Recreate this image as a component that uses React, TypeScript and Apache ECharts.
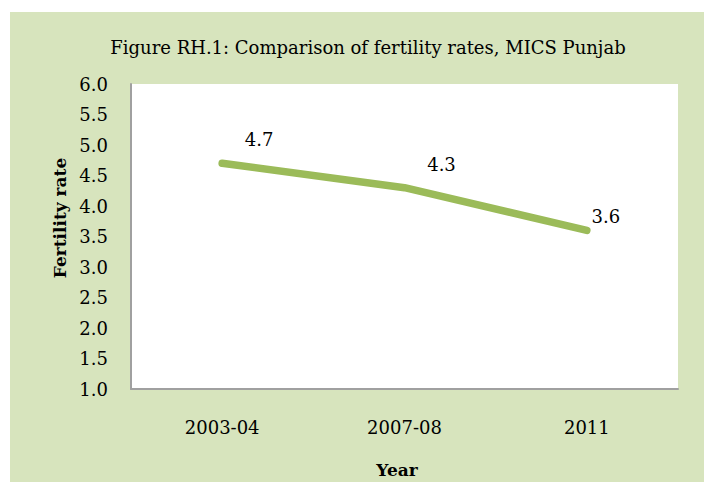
import React, { useEffect, useRef } from "react";
import * as echarts from "echarts";

const categories = ["2003-04", "2007-08", "2011"];
const fertility = [4.7, 4.3, 3.6];
const titleText = "Figure RH.1: Comparison of fertility rates, MICS Punjab";
const yName = "Fertility rate";
const xName = "Year";

const FONT = "DejaVu Serif";
const labelOffsets: [number, number][] = [
  [37, -9],
  [37, -9],
  [19, 1],
];

export default function App() {
  const ref = useRef<HTMLDivElement>(null);
  useEffect(() => {
    if (!ref.current) return;
    const chart = echarts.init(ref.current, null, { renderer: "svg" });
    chart.setOption({
      animation: false,
      backgroundColor: "#ffffff",
      graphic: [
        {
          type: "rect",
          z: -10,
          silent: true,
          shape: { x: 10, y: 12, width: 702, height: 478 },
          style: { fill: "#d7e4bd" },
        },
        {
          type: "text",
          x: 368,
          y: 47,
          style: {
            text: titleText,
            font: `18px '${FONT}'`,
            fill: "#000",
            textAlign: "center",
            textVerticalAlign: "middle",
          },
        },
        {
          type: "text",
          x: 60,
          y: 218,
          rotation: Math.PI / 2,
          style: {
            text: yName,
            font: `bold 17px '${FONT}'`,
            fill: "#000",
            textAlign: "center",
            textVerticalAlign: "middle",
          },
        },
        {
          type: "text",
          x: 397,
          y: 470,
          style: {
            text: xName,
            font: `bold 17px '${FONT}'`,
            fill: "#000",
            textAlign: "center",
            textVerticalAlign: "middle",
          },
        },
      ],
      grid: {
        left: 131,
        right: 34,
        top: 84,
        bottom: 101,
        show: true,
        backgroundColor: "#ffffff",
        borderWidth: 0,
      },
      xAxis: {
        type: "category",
        data: categories,
        boundaryGap: true,
        axisLine: { show: true, lineStyle: { color: "#a0a0a0", width: 2 } },
        axisTick: { show: false },
        axisLabel: {
          margin: 29,
          fontFamily: FONT,
          fontSize: 18,
          color: "#000",
        },
        splitLine: { show: false },
      },
      yAxis: {
        type: "value",
        min: 1.0,
        max: 6.0,
        interval: 0.5,
        axisLine: { show: true, lineStyle: { color: "#a0a0a0", width: 2 } },
        axisTick: { show: false },
        axisLabel: {
          margin: 23,
          fontFamily: FONT,
          fontSize: 18,
          color: "#000",
          formatter: (v: number) => v.toFixed(1),
        },
        splitLine: { show: false },
      },
      series: [
        {
          type: "line",
          data: fertility.map((v, i) => ({
            value: v,
            label: { offset: labelOffsets[i], opacity: 1 },
          })),
          symbol: "circle",
          symbolSize: 1,
          showSymbol: true,
          lineStyle: { color: "#9bbb59", width: 7.5, cap: "round", join: "round" },
          itemStyle: { color: "#9bbb59", opacity: 0 },
          label: {
            show: true,
            position: "top",
            distance: 5,
            fontFamily: FONT,
            fontSize: 18,
            color: "#000",
            opacity: 1,
            formatter: (p: any) => Number(p.value).toFixed(1),
          },
        },
      ],
    });
    return () => chart.dispose();
  }, []);
  return <div ref={ref} style={{ width: 712, height: 490, margin: -8 }} />;
}
